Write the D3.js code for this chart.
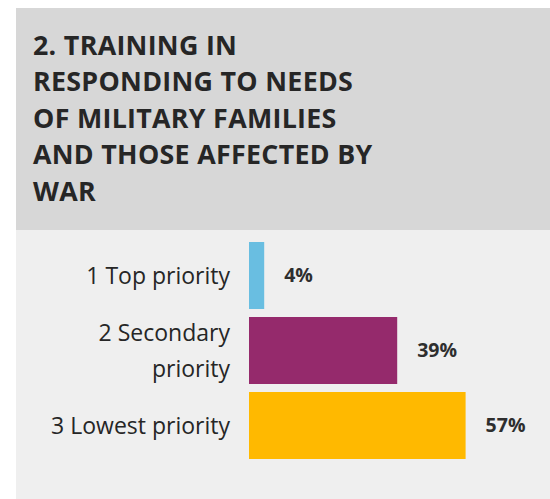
<!DOCTYPE html>
<html>
<head>
<meta charset="utf-8">
<script src="https://cdn.jsdelivr.net/npm/d3@7"></script>
<style>
  html, body { margin: 0; padding: 0; background: #ffffff; }
  svg { display: block; }
</style>
</head>
<body>
<div id="chart"></div>
<script>
// ---- data ----
const titleLines = ["2. TRAINING IN", "RESPONDING TO NEEDS", "OF MILITARY FAMILIES", "AND THOSE AFFECTED BY", "WAR"];
const categories = ["1 Top priority", "2 Secondary priority", "3 Lowest priority"];
const categoryLines = [["1 Top priority"], ["2 Secondary", "priority"], ["3 Lowest priority"]];
const values = [4, 39, 57];
const valueLabels = ["4%", "39%", "57%"];
const colors = ["#69bee1", "#952a6c", "#ffb900"];

// ---- layout ----
const W = 550, H = 499;
const svg = d3.select("#chart").append("svg").attr("width", W).attr("height", H);

// panel backgrounds
svg.append("rect").attr("x", 16).attr("y", 8).attr("width", W - 16).attr("height", H - 8).attr("fill", "#efefef");
svg.append("rect").attr("x", 16).attr("y", 8).attr("width", W - 16).attr("height", 222).attr("fill", "#d7d7d7");

// title
const title = svg.append("text")
  .attr("x", 33)
  .attr("font-family", "'Open Sans', sans-serif")
  .attr("font-weight", 700)
  .attr("font-size", 26.8)
  .attr("letter-spacing", 0.3)
  .attr("fill", "#262626");
titleLines.forEach((t, i) => {
  title.append("tspan").attr("x", 33).attr("y", 55 + i * 36.4).text(t);
});

// scales
const x = d3.scaleLinear().domain([0, 100]).range([249, 629]);
const y = d3.scaleBand().domain(categories).range([238, 463]).paddingInner(8 / 75).paddingOuter(4 / 75);

// bars
svg.append("g").selectAll("rect")
  .data(values)
  .join("rect")
  .attr("x", x(0))
  .attr("y", (d, i) => y(categories[i]))
  .attr("width", d => x(d) - x(0))
  .attr("height", y.bandwidth())
  .attr("fill", (d, i) => colors[i]);

// value labels
svg.append("g").selectAll("text")
  .data(values)
  .join("text")
  .attr("x", d => x(d) + 20)
  .attr("y", (d, i) => y(categories[i]) + y.bandwidth() / 2)
  .attr("dy", "0.35em")
  .attr("font-family", "'Open Sans', sans-serif")
  .attr("font-weight", 700)
  .attr("font-size", 19.5)
  .attr("fill", "#2e2e2e")
  .text((d, i) => valueLabels[i]);

// category labels
const catG = svg.append("g");
categories.forEach((c, i) => {
  const lines = categoryLines[i];
  const cy = y(c) + y.bandwidth() / 2;
  const t = catG.append("text")
    .attr("text-anchor", "end")
    .attr("font-family", "'Open Sans', sans-serif")
    .attr("font-weight", 500)
    .attr("font-size", 23)
    .attr("fill", "#262626");
  lines.forEach((ln, j) => {
    t.append("tspan")
      .attr("x", 230)
      .attr("y", cy + 8 + (j - (lines.length - 1) / 2) * 36)
      .text(ln);
  });
});
</script>
</body>
</html>
